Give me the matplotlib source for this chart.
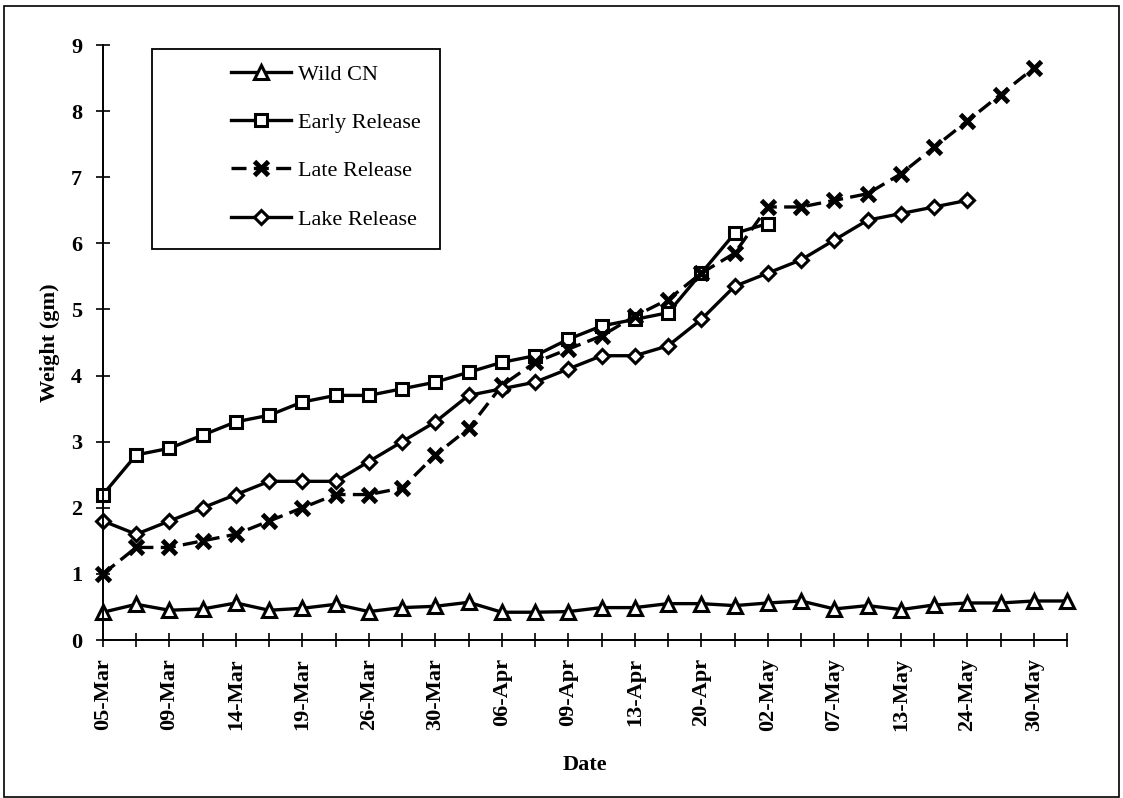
import matplotlib
matplotlib.use("Agg")
import matplotlib.pyplot as plt
from matplotlib.patches import Rectangle

dates = ["05-Mar", "", "09-Mar", "", "14-Mar", "", "19-Mar", "", "26-Mar", "",
         "30-Mar", "", "06-Apr", "", "09-Apr", "", "13-Apr", "", "20-Apr", "",
         "02-May", "", "07-May", "", "13-May", "", "24-May", "", "30-May", ""]

wild_cn = [0.42, 0.54, 0.45, 0.47, 0.56, 0.45, 0.48, 0.54, 0.43, 0.49,
           0.51, 0.57, 0.42, 0.42, 0.43, 0.49, 0.49, 0.55, 0.55, 0.52,
           0.56, 0.59, 0.47, 0.52, 0.46, 0.53, 0.56, 0.56, 0.59, 0.59]

early_release = [2.2, 2.8, 2.9, 3.1, 3.3, 3.4, 3.6, 3.7, 3.7, 3.8,
                 3.9, 4.05, 4.2, 4.3, 4.55, 4.75, 4.85, 4.95, 5.55, 6.15,
                 6.3]

late_release = [1.0, 1.4, 1.4, 1.5, 1.6, 1.8, 2.0, 2.2, 2.2, 2.3,
                2.8, 3.2, 3.85, 4.2, 4.4, 4.6, 4.9, 5.15, 5.55, 5.85,
                6.55, 6.55, 6.65, 6.75, 7.05, 7.45, 7.85, 8.25, 8.65]

lake_release = [1.8, 1.6, 1.8, 2.0, 2.2, 2.4, 2.4, 2.4, 2.7, 3.0,
                3.3, 3.7, 3.8, 3.9, 4.1, 4.3, 4.3, 4.45, 4.85, 5.35,
                5.55, 5.75, 6.05, 6.35, 6.45, 6.55, 6.65]

plt.rcParams["font.family"] = ["Liberation Serif", "DejaVu Serif"]

fig = plt.figure(figsize=(11.23, 7.98), dpi=100)
W, H = 1123, 798
ax = fig.add_axes([103 / W, (H - 640) / H, (1067 - 103) / W, (640 - 45) / H])

base = dict(color="black", linewidth=2.4, markeredgewidth=2.2,
            markerfacecolor="white", markeredgecolor="black", clip_on=False)

ax.plot(range(len(wild_cn)), wild_cn, marker="^", markersize=10,
        label="Wild CN", **base)
ax.plot(range(len(early_release)), early_release, marker="s", markersize=9,
        label="Early Release", **base)
ax.plot(range(len(late_release)), late_release, marker="x", label="Late Release",
        linestyle=(0, (4.5, 2.2)), color="black", linewidth=2.4, markersize=10,
        markeredgewidth=3.5, clip_on=False)
ax.plot(range(len(lake_release)), lake_release, marker="D", markersize=7.5,
        label="Lake Release", **base)

ax.set_xlim(0, len(dates) - 1)
ax.set_ylim(0, 9)
ax.set_xticks(range(len(dates)))
ax.set_xticklabels(dates, rotation=90, fontsize=16, fontweight="bold")
ax.set_yticks(range(0, 10))
ax.set_yticklabels([str(v) for v in range(0, 10)], fontsize=16, fontweight="bold")
ax.tick_params(axis="both", direction="inout", length=10, width=1.2, pad=10)
ax.tick_params(axis="x", pad=8)

for side in ("top", "right"):
    ax.spines[side].set_visible(False)
for side in ("left", "bottom"):
    ax.spines[side].set_linewidth(1.4)

ax.set_xlabel("Date", fontsize=16, fontweight="bold", labelpad=17)
ax.set_ylabel("Weight (gm)", fontsize=16, fontweight="bold", labelpad=8)

# legend box drawn separately so the entries sit inset from its left edge
ax_w, ax_h = 1067 - 103, 640 - 45
def to_axes(px, py):
    return (px - 103) / ax_w, (640 - py) / ax_h

x0, y0 = to_axes(152, 249)
x1, y1 = to_axes(440, 49)
ax.add_patch(Rectangle((x0, y0), x1 - x0, y1 - y0, transform=ax.transAxes,
                       fill=False, edgecolor="black", linewidth=1.3,
                       clip_on=False, zorder=5))

lx, ly = to_axes(231, 64)
leg = ax.legend(loc="upper left", bbox_to_anchor=(lx, ly), fontsize=16,
                frameon=False, handlelength=2.7, labelspacing=1.25,
                borderpad=0, borderaxespad=0, handletextpad=0.3)

fig.patches.append(Rectangle((4 / W, 1 / H), (1119 - 4) / W, (792 - 1) / H,
                             transform=fig.transFigure, fill=False,
                             edgecolor="black", linewidth=1.2))

fig.savefig("out.png", dpi=100)
